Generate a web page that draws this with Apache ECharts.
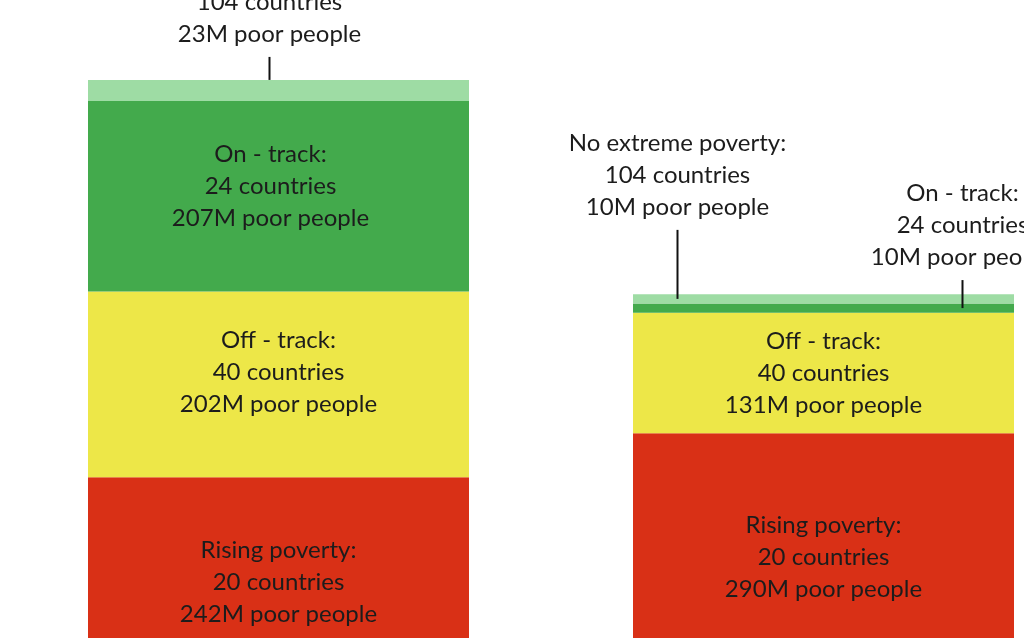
<!DOCTYPE html>
<html>
<head>
<meta charset="utf-8">
<script src="https://cdn.jsdelivr.net/npm/echarts@6/dist/echarts.min.js"></script>
<style>
  html, body { margin: 0; padding: 0; background: #fff; }
  #chart { width: 1024px; height: 638px; }
</style>
</head>
<body>
<div id="chart"></div>
<script>
// two stacked bars, values in millions of poor people
const categories = ['Today', '2030'];
const risingPoverty = [242, 290];
const offTrack = [202, 131];
const onTrack = [207, 10];
const noExtreme = [23, 10];
const risingCountries = [20, 20];
const offCountries = [40, 40];
const onCountries = [24, 24];
const noExtremeCountries = [104, 104];

const FONT = 'Lato';
const TXT = '#1c1c1c';

var myChart = echarts.init(document.getElementById('chart'));

function segLabel(title, countries, people) {
  return {
    show: true,
    position: 'inside',
    offset: [0, -7],
    fontFamily: FONT,
    fontSize: 24,
    lineHeight: 32,
    color: TXT,
    formatter: function (p) {
      if (p.value < 50) return ''; // thin segment gets a callout instead
      return title + ':\n' + countries[p.dataIndex] + ' countries\n' + people[p.dataIndex] + 'M poor people';
    }
  };
}

// callouts for the thin segments: which bar, which segment, where the line ends
const callouts = [
  { cat: 0, seg: 3, at: 'top', dx: -9, len: 23, title: 'No extreme poverty', countries: noExtremeCountries, people: noExtreme },
  { cat: 1, seg: 3, at: 'mid', dx: -146, len: 69, title: 'No extreme poverty', countries: noExtremeCountries, people: noExtreme },
  { cat: 1, seg: 2, at: 'mid', dx: 139, len: 28, title: 'On - track', countries: onCountries, people: onTrack }
];
const stackSeries = [risingPoverty, offTrack, onTrack, noExtreme];

function anchorValue(c) {
  let below = 0;
  for (let i = 0; i < c.seg; i++) below += stackSeries[i][c.cat];
  let v = stackSeries[c.seg][c.cat];
  return c.at === 'top' ? below + v : below + v / 2;
}

let option = {
  backgroundColor: '#ffffff',
  animation: false,
  grid: { left: 6, top: 56, width: 1090, height: 644, outerBoundsMode: 'none', containLabel: false },
  xAxis: {
    type: 'category',
    data: categories,
    show: false
  },
  yAxis: {
    type: 'value',
    min: 0,
    max: 700,
    show: false,
    splitLine: { show: false }
  },
  series: [
    {
      name: 'Rising poverty',
      type: 'bar',
      stack: 'all',
      barWidth: 381,
      itemStyle: { color: '#d93016' },
      label: segLabel('Rising poverty', risingCountries, risingPoverty),
      data: risingPoverty.map(function (v, i) {
        return { value: v, label: { offset: [0, i === 0 ? -6 : -9] } };
      })
    },
    {
      name: 'Off - track',
      type: 'bar',
      stack: 'all',
      barWidth: 381,
      itemStyle: { color: '#ede748' },
      label: segLabel('Off - track', offCountries, offTrack),
      data: offTrack.map(function (v, i) {
        return { value: v, label: { offset: [0, i === 0 ? -12 : 0] } };
      })
    },
    {
      name: 'On - track',
      type: 'bar',
      stack: 'all',
      barWidth: 381,
      itemStyle: { color: '#43aa4c' },
      label: segLabel('On - track', onCountries, onTrack),
      data: onTrack.map(function (v, i) {
        return { value: v, label: { offset: [i === 0 ? -8 : 0, -10] } };
      })
    },
    {
      name: 'No extreme poverty',
      type: 'bar',
      stack: 'all',
      barWidth: 381,
      itemStyle: { color: '#9edca4' },
      data: noExtreme
    },
    {
      type: 'custom',
      silent: true,
      renderItem: function (params, api) {
        let c = callouts[params.dataIndex];
        let pt = api.coord([c.cat, anchorValue(c)]);
        let x = pt[0] + c.dx;
        let y0 = pt[1];
        let y1 = y0 - c.len;
        return {
          type: 'group',
          children: [
            {
              type: 'line',
              shape: { x1: x, y1: y0, x2: x, y2: y1 },
              style: { stroke: '#111', lineWidth: 2 }
            },
            {
              type: 'text',
              x: x,
              y: y1 - 7,
              style: {
                text: c.title + ':\n' + c.countries[c.cat] + ' countries\n' + c.people[c.cat] + 'M poor people',
                align: 'center',
                verticalAlign: 'bottom',
                fontFamily: FONT,
                fontSize: 24,
                lineHeight: 32,
                fill: TXT
              }
            }
          ]
        };
      },
      data: callouts.map(function (c, i) { return [c.cat, i]; }),
      z: 5
    }
  ]
};
myChart.setOption(option);
</script>
</body>
</html>
